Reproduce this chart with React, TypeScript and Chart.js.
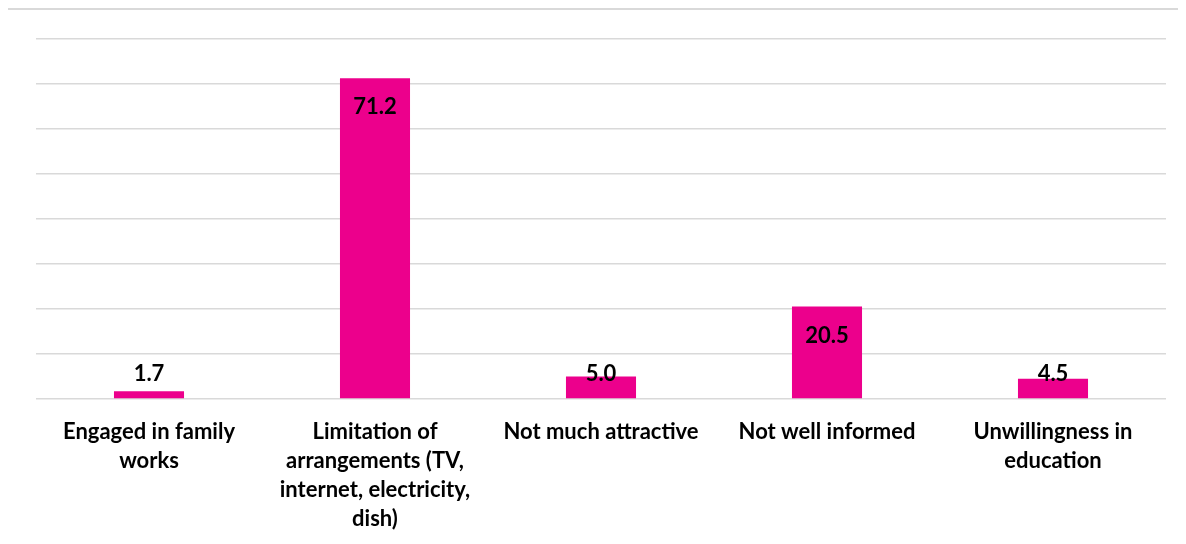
import React, { useEffect, useRef } from "react";
import { Chart, registerables } from "chart.js";

Chart.register(...registerables);

const categories: string[][] = [
  ["Engaged in family", "works"],
  ["Limitation of", "arrangements (TV,", "internet, electricity,", "dish)"],
  ["Not much attractive"],
  ["Not well informed"],
  ["Unwillingness in", "education"],
];
const values: number[] = [1.7, 71.2, 5.0, 20.5, 4.5];
const yMax = 80;
const yStep = 10;

const BAR_COLOR = "#EC008C";
const GRID_COLOR = "#d9d9d9";
const FONT = "Lato";

const dataLabels = {
  id: "dataLabels",
  afterDatasetsDraw(chart: any) {
    const ctx = chart.ctx;
    const meta = chart.getDatasetMeta(0);
    ctx.save();
    ctx.font = `bold 22px ${FONT}`;
    ctx.fillStyle = "#000";
    ctx.textAlign = "center";
    ctx.textBaseline = "alphabetic";
    meta.data.forEach((el: any, i: number) => {
      const y = Math.min(el.y + 36, el.base - 17);
      ctx.fillText(values[i].toFixed(1), el.x, y);
    });
    ctx.restore();
  },
};

export default function App() {
  const ref = useRef<HTMLCanvasElement | null>(null);
  useEffect(() => {
    if (!ref.current) return;
    const chart = new Chart(ref.current, {
      type: "bar",
      data: {
        labels: categories,
        datasets: [
          {
            data: values,
            backgroundColor: BAR_COLOR,
            borderWidth: 0,
            categoryPercentage: 1,
            barPercentage: 0.31,
          },
        ],
      },
      options: {
        responsive: false,
        animation: false,
        layout: { padding: { left: 36, right: 20, top: 38.5, bottom: 0 } },
        plugins: { legend: { display: false }, tooltip: { enabled: false } },
        scales: {
          x: {
            grid: { display: false, drawTicks: false },
            border: { display: false },
            ticks: {
              color: "#000",
              font: { family: FONT, weight: "bold", size: 22, lineHeight: 29 / 22 },
              padding: 18,
              maxRotation: 0,
              autoSkip: false,
            },
            afterFit: (scale: any) => {
              scale.height = 145;
            },
          },
          y: {
            min: 0,
            max: yMax,
            ticks: { display: false, stepSize: yStep },
            grid: { color: GRID_COLOR, lineWidth: 1.5, drawTicks: false },
            border: { display: false },
          },
        },
      },
      plugins: [dataLabels],
    });
    return () => chart.destroy();
  }, []);

  return (
    <div
      style={{
        position: "relative",
        width: 1186,
        height: 544,
        margin: -8,
        overflow: "hidden",
        background: "#fff",
      }}
    >
      <div
        style={{
          position: "absolute",
          left: 6,
          top: 8,
          width: 1300,
          height: 700,
          border: `2px solid ${GRID_COLOR}`,
          boxSizing: "border-box",
        }}
      />
      <canvas
        ref={ref}
        width={1186}
        height={544}
        style={{ position: "absolute", left: 0, top: 0, width: 1186, height: 544 }}
      />
    </div>
  );
}
